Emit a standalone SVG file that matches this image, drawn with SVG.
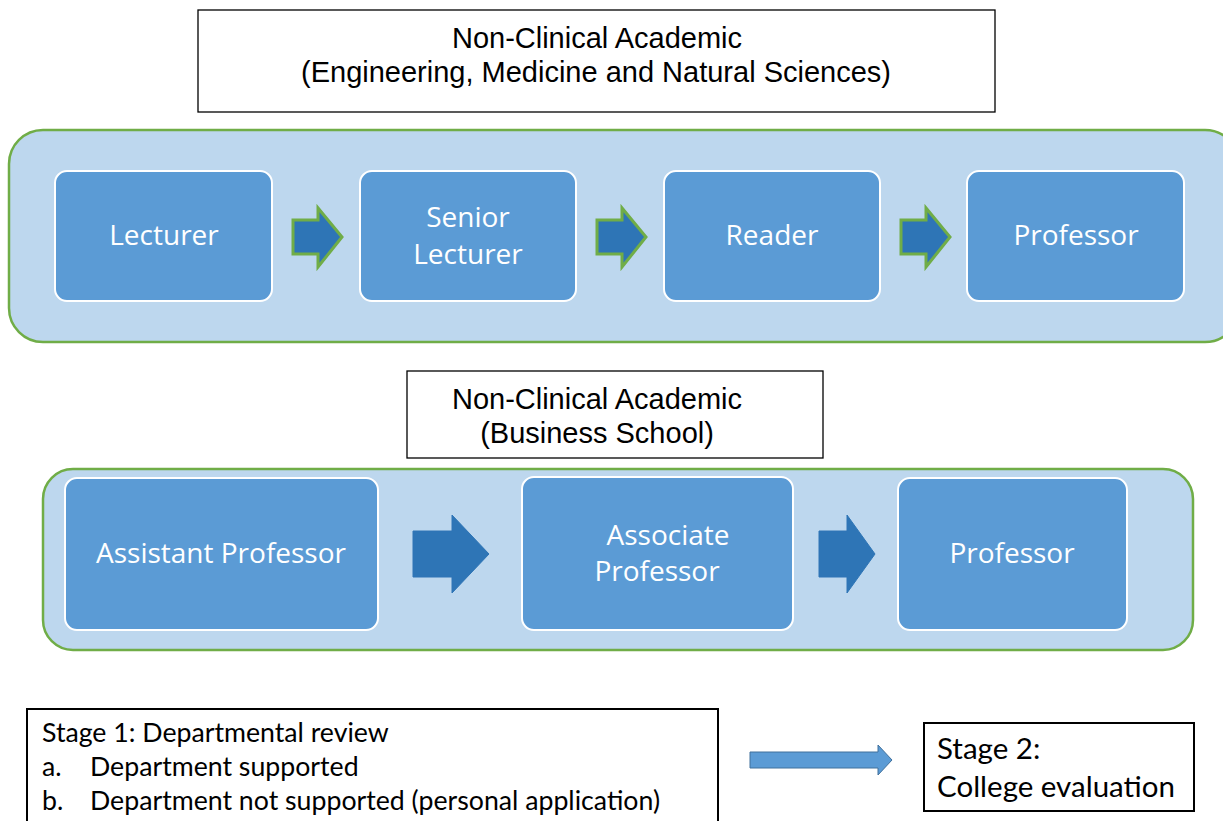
<svg xmlns="http://www.w3.org/2000/svg" width="1223" height="821" viewBox="0 0 1223 821">
<style>
.title{fill:#fff;stroke:#000;stroke-width:1.3}
.tt{font-family:"Liberation Sans",Arial,sans-serif;font-size:29px;fill:#000;text-anchor:middle}
.cont{fill:#BDD7EE;stroke:#70AD47;stroke-width:2.5}
.box{fill:#5B9BD5;stroke:#fff;stroke-width:2}
.bt{font-family:"Open Sans",sans-serif;font-size:28px;fill:#fff;text-anchor:middle}
.arrG{fill:#2E75B6;stroke:#70AD47;stroke-width:3}
.arrB{fill:#2E75B6;stroke:#2E75B6;stroke-width:1}
.stage{fill:#fff;stroke:#000;stroke-width:2}
.st{font-family:Lato,"Open Sans",sans-serif;font-size:26.7px;fill:#000}
.st2{font-family:Lato,"Open Sans",sans-serif;font-size:29.5px;fill:#000}
</style>
<g id="title1">
<rect class="title" x="198" y="10" width="797" height="102"/>
<text class="tt" x="597" y="48">Non-Clinical Academic</text>
<text class="tt" x="596" y="82">(Engineering, Medicine and Natural Sciences)</text>
</g>
<g id="container1"><rect class="cont" x="9" y="130" width="1230" height="212" rx="34"/></g>
<g id="lecturer"><rect class="box" x="55" y="171" width="217" height="130" rx="12"/><text class="bt" x="164" y="245">Lecturer</text></g>
<g id="senior-lecturer"><rect class="box" x="360" y="171" width="216" height="130" rx="12"/><text class="bt" x="468" y="227">Senior</text><text class="bt" x="468" y="264">Lecturer</text></g>
<g id="reader"><rect class="box" x="664" y="171" width="216" height="130" rx="12"/><text class="bt" x="772" y="245">Reader</text></g>
<g id="professor1"><rect class="box" x="967" y="171" width="217" height="130" rx="12"/><text class="bt" x="1076" y="245">Professor</text></g>
<g id="title2">
<rect class="title" x="407" y="371" width="416" height="87"/>
<text class="tt" x="597" y="409">Non-Clinical Academic</text>
<text class="tt" x="597" y="443">(Business School)</text>
</g>
<g id="container2"><rect class="cont" x="43" y="469" width="1150" height="181" rx="30"/></g>
<g id="assistant-professor"><rect class="box" x="65" y="478" width="313" height="152" rx="12"/><text class="bt" x="221" y="563">Assistant Professor</text></g>
<g id="associate-professor"><rect class="box" x="522" y="477" width="271" height="153" rx="12"/><text class="bt" x="668" y="545">Associate</text><text class="bt" x="657" y="581">Professor</text></g>
<g id="professor2"><rect class="box" x="898" y="478" width="229" height="152" rx="12"/><text class="bt" x="1012" y="563">Professor</text></g>
<g id="stage1">
<rect class="stage" x="27" y="709" width="691" height="120"/>
<text class="st" x="42" y="742">Stage 1: Departmental review</text>
<text class="st" x="42" y="776">a.</text><text class="st" x="90" y="776">Department supported</text>
<text class="st" x="42" y="810">b.</text><text class="st" x="90" y="810">Department not supported (personal application)</text>
</g>
<g id="stage2">
<rect class="stage" x="924" y="723" width="270" height="88"/>
<text class="st2" x="937" y="759">Stage 2:</text>
<text class="st2" x="937" y="797">College evaluation</text>
</g>
<g id="connectors">
<polygon class="arrG" points="293,220 318,220 318,208 342,237 318,267 318,254 293,254"/>
<polygon class="arrG" points="597,220 622,220 622,208 646,237 622,267 622,254 597,254"/>
<polygon class="arrG" points="901,220 926,220 926,208 950,237 926,267 926,254 901,254"/>
<polygon class="arrB" points="413,531 452,531 452,515 489,554 452,593 452,577 413,577"/>
<polygon class="arrB" points="819,531 847,531 847,515 875,554 847,593 847,577 819,577"/>
<polygon points="750,752 878,752 878,745 892,760 878,775 878,768 750,768" fill="#5B9BD5" stroke="#41719C" stroke-width="1"/>
</g>
</svg>
